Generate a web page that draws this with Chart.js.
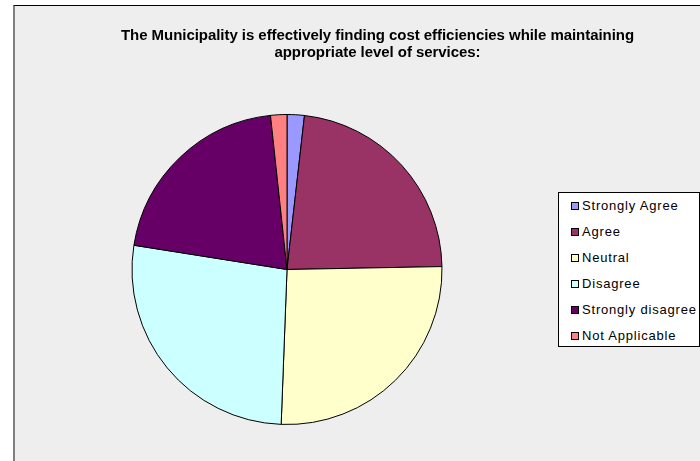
<!DOCTYPE html>
<html>
<head>
<meta charset="utf-8">
<script src="https://cdn.jsdelivr.net/npm/chart.js@4/dist/chart.umd.min.js"></script>
<style>
  html, body { margin: 0; padding: 0; background: #ffffff; }
  #frame {
    position: absolute; left: 13px; top: 5px; width: 687px; height: 456px;
    background: #eeeeee; border-left: 2px solid #808080; border-top: 1px solid #000000;
    box-sizing: border-box;
  }
  #chart { position: absolute; left: 0; top: 0; }
  #title {
    position: absolute; left: 0; top: 20px; width: 725px; text-align: center;
    font-family: "Liberation Sans", Arial, sans-serif; font-size: 15px; font-weight: bold;
    line-height: 17px; color: #000; letter-spacing: -0.05px;
  }
  #legend {
    position: absolute; left: 543px; top: 186px; width: 142px; height: 155px;
    background: #ffffff; border: 1px solid #000000; box-sizing: border-box;
    font-family: "Liberation Sans", Arial, sans-serif; font-size: 13px; color: #000;
    letter-spacing: 0.8px;
  }
  #legend .item { position: absolute; left: 12px; height: 16px; line-height: 16px; white-space: nowrap; }
  #legend .box {
    display: inline-block; width: 6px; height: 6px; border: 1px solid #000;
    margin-right: 3px; vertical-align: 0px;
  }
</style>
</head>
<body>
<div id="frame">
  <canvas id="chart" width="685" height="455"></canvas>
  <div id="title"></div>
  <div id="legend"></div>
</div>
<script>
  var title = ['The Municipality is effectively finding cost efficiencies while maintaining',
               'appropriate level of services:'];
  var categories = ['Strongly Agree', 'Agree', 'Neutral', 'Disagree', 'Strongly disagree', 'Not Applicable'];
  var shares = [1.8, 22.9, 25.9, 26.9, 20.8, 1.7];
  var colours = ['#9999ff', '#993366', '#ffffcc', '#ccffff', '#660066', '#ff8080'];

  var titleEl = document.getElementById('title');
  title.forEach(function(line) {
    var div = document.createElement('div');
    div.textContent = line;
    titleEl.appendChild(div);
  });

  var legend = document.getElementById('legend');
  categories.forEach(function(name, i) {
    var item = document.createElement('div');
    item.className = 'item';
    item.style.top = (5 + i * 26) + 'px';
    var box = document.createElement('span');
    box.className = 'box';
    box.style.background = colours[i];
    item.appendChild(box);
    item.appendChild(document.createTextNode(name));
    legend.appendChild(item);
  });

  new Chart(document.getElementById('chart'), {
    type: 'pie',
    data: {
      labels: categories,
      datasets: [{
        data: shares,
        backgroundColor: colours,
        borderColor: '#000000',
        borderWidth: 1
      }]
    },
    options: {
      responsive: false,
      animation: false,
      events: [],
      layout: { padding: { left: 116, right: 257, top: 108, bottom: 36 } },
      plugins: {
        legend: { display: false },
        tooltip: { enabled: false },
        title: { display: false }
      }
    }
  });
</script>
</body>
</html>
